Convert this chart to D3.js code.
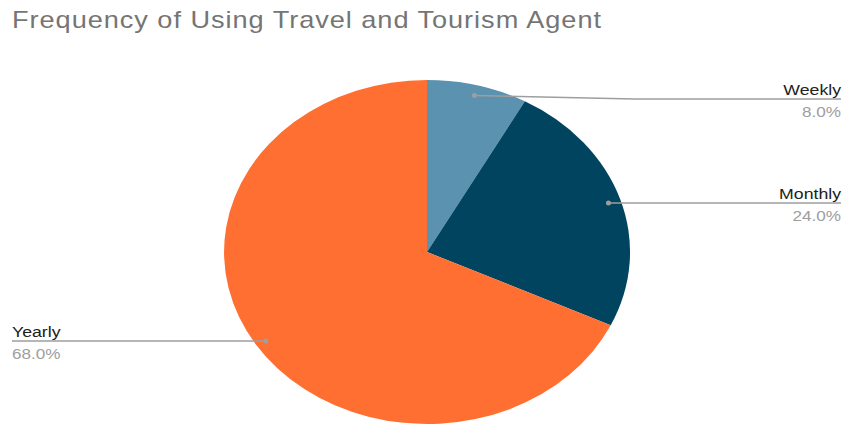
<!DOCTYPE html>
<html>
<head>
<meta charset="utf-8">
<script src="https://cdn.jsdelivr.net/npm/d3@7/dist/d3.min.js"></script>
<style>
  html, body { margin: 0; padding: 0; background: #fff; }
  svg { display: block; }
</style>
</head>
<body>
<svg id="chart" width="843" height="425"></svg>
<script>
// Survey answers: how often respondents use a travel and tourism agent
const categories = ["Weekly", "Monthly", "Yearly"];
const shares = [8.0, 24.0, 68.0];
const sliceColors = ["#5a92b0", "#00445f", "#ff6f31"];
const chartTitle = "Frequency of Using Travel and Tourism Agent";

const width = 843, height = 425;
const cx = 427, cy = 252, rx = 203, ry = 172;
// The whole chart is stretched horizontally; text follows the same stretch
const stretch = rx / ry;

const svg = d3.select("#chart");
const font = "Liberation Sans, Arial, sans-serif";

svg.append("text")
  .attr("transform", `translate(12,28) scale(${stretch},1)`)
  .attr("font-family", font)
  .attr("font-size", 23)
  .attr("textLength", 589 / stretch)
  .attr("lengthAdjust", "spacing")
  .attr("fill", "#757575")
  .text(chartTitle);

const pie = d3.pie().sort(null).value(d => d.v);
const arcs = pie(categories.map((c, i) => ({ c, v: shares[i], color: sliceColors[i] })));

// Unit-radius arcs stretched into an ellipse
const arc = d3.arc().innerRadius(0).outerRadius(1);
svg.append("g")
  .attr("transform", `translate(${cx},${cy}) scale(${rx},${ry})`)
  .selectAll("path")
  .data(arcs)
  .enter().append("path")
  .attr("d", arc)
  .attr("fill", d => d.data.color);

// Anchor point of each leader line, near the rim at the slice's middle angle
function anchor(d, f) {
  const a = (d.startAngle + d.endAngle) / 2;
  return [cx + rx * f * Math.sin(a), cy - ry * f * Math.cos(a)];
}

const leaderColor = "#9e9e9e";
const labelLayout = {
  Weekly:  { side: "right", y: 99, bend: true },
  Monthly: { side: "right", y: 203, bend: false },
  Yearly:  { side: "left",  y: 341, bend: false }
};

const g = svg.append("g");
arcs.forEach(d => {
  const lay = labelLayout[d.data.c];
  const [px, py] = anchor(d, 0.94);
  const endX = lay.side === "right" ? 841 : 12;
  const pts = lay.bend
    ? [[px, py], [px + 160, lay.y], [endX, lay.y]]
    : [[px, lay.y], [endX, lay.y]];
  g.append("path")
    .attr("d", d3.line()(pts))
    .attr("fill", "none")
    .attr("stroke", leaderColor)
    .attr("stroke-width", 1.5);
  g.append("circle")
    .attr("cx", pts[0][0]).attr("cy", pts[0][1]).attr("r", 2.5)
    .attr("fill", leaderColor);
  const anchorText = lay.side === "right" ? "end" : "start";
  g.append("text")
    .attr("transform", `translate(${endX},${lay.y - 4}) scale(${stretch},1)`)
    .attr("text-anchor", anchorText)
    .attr("font-family", font)
    .attr("font-size", 15)
    .attr("fill", "#212121")
    .text(d.data.c);
  g.append("text")
    .attr("transform", `translate(${endX},${lay.y + 18}) scale(${stretch},1)`)
    .attr("text-anchor", anchorText)
    .attr("font-family", font)
    .attr("font-size", 14.5)
    .attr("fill", "#9e9e9e")
    .text(d3.format(".1f")(d.data.v) + "%");
});
</script>
</body>
</html>
